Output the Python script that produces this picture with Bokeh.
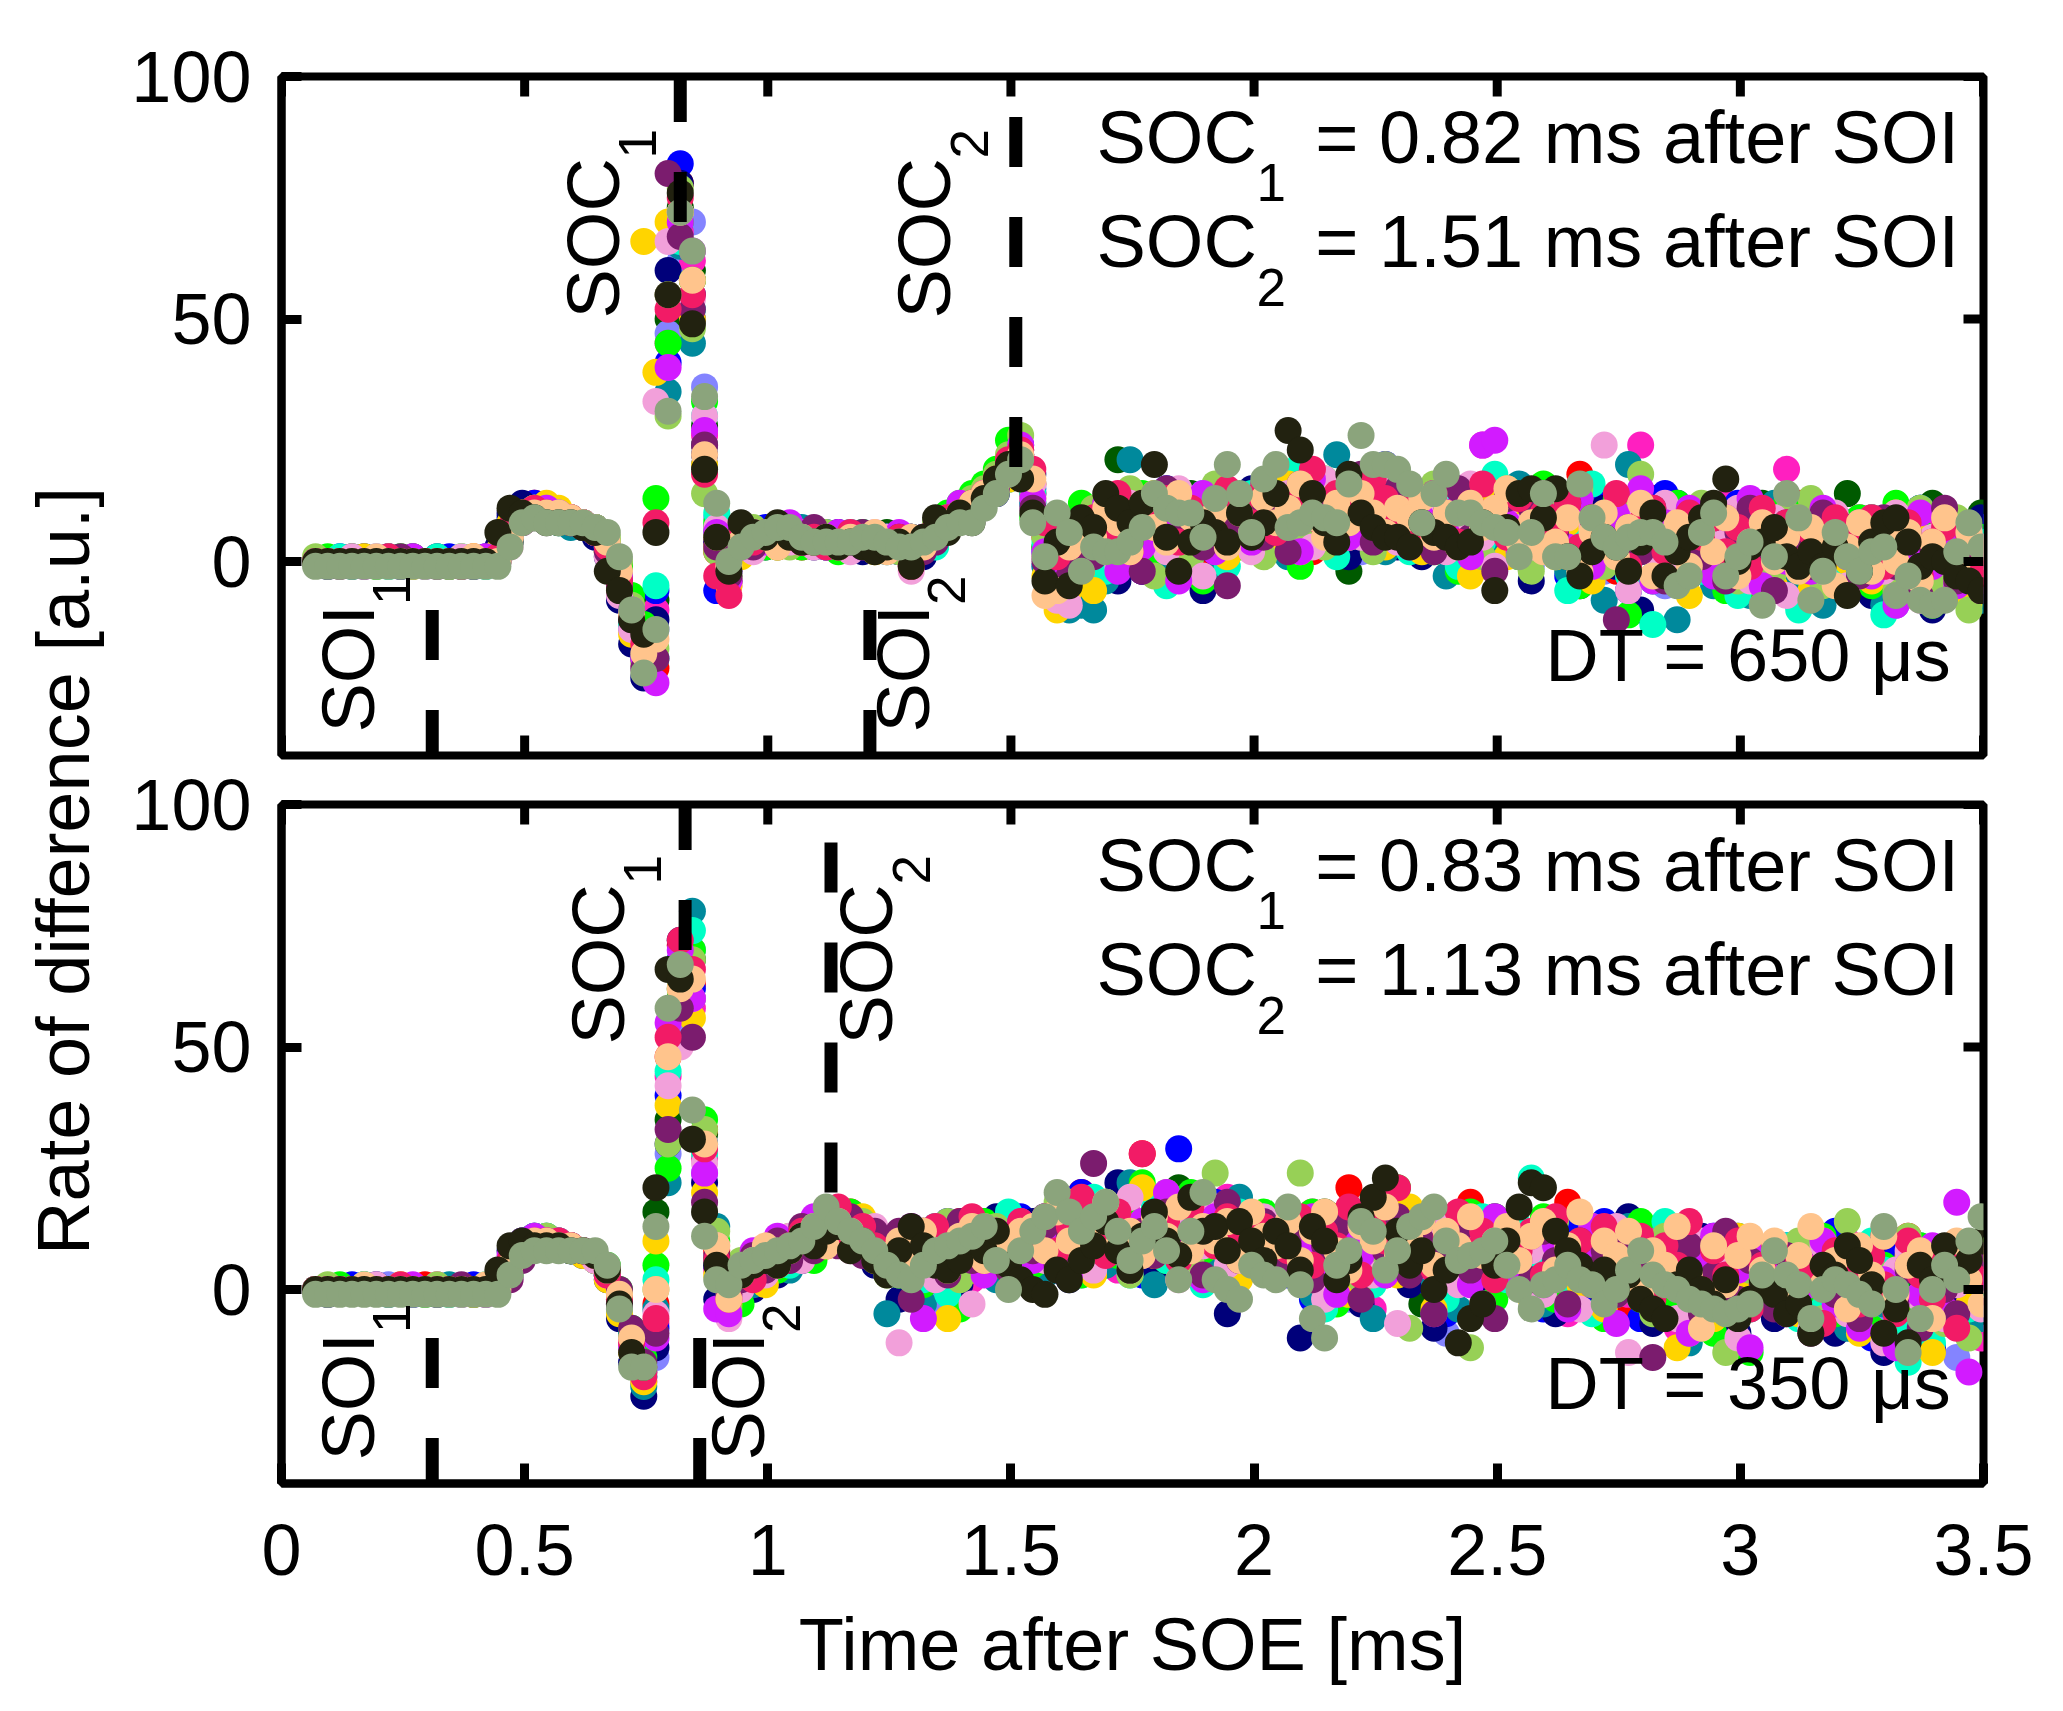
import math
from bokeh.plotting import figure
from bokeh.layouts import row, column
from bokeh.models import Range1d, FixedTicker, LinearAxis, Label, CustomJSTickFormatter
from bokeh.embed import file_html
from bokeh.resources import INLINE
from bokeh.core.properties import value

FONT = "Liberation Sans"

# ---------------- data ----------------
time_ms = [round(0.07 + 0.025 * k, 3) for k in range(138)]
x_ticks = [0, 0.5, 1, 1.5, 2, 2.5, 3, 3.5]
y_ticks = [0, 50, 100]

# ---- upper panel (DT = 650 us) ----
top_darkgreen = [0,0,0,1,0,0,0,0,0,0,0,-1,0,0,0,1,
                 6,10,11,10,9,8,8,7,4,-1,-9,-17,
                 -8,50,73,60,28,7,-3,
                 4,6,5,3,5,6,4,5,4,3,5,4,6,3,4,2,
                 5,8,10,11,13,15,18,20,14,3,-2,4,6,
                 7,3,21,9,5,12,0,8,14,6,2,10,
                 5,11,7,14,2,9,16,6,12,-2,10,15,4,8,
                 10,4,13,7,1,11,6,15,3,9,12,5,
                 2,8,12,-3,6,10,1,7,13,-1,5,9,
                 8,3,-4,10,5,12,-1,6,2,-5,9,4,
                 14,2,-6,7,3,-2,9,12,-4,5,-8,10]
top_periwinkle = [0,0,0,0,0,1,0,0,0,-1,0,0,0,0,0,0,
                  4,9,10,11,10,9,8,6,3,-4,-12,-19,
                  -14,47,62,70,36,9,1,
                  5,3,6,5,4,6,5,3,5,4,6,3,5,4,2,4,
                  6,7,9,11,12,14,17,21,12,-1,-8,-4,3,
                  9,5,-3,11,7,2,13,4,9,-1,8,12,
                  6,13,9,3,15,8,11,5,14,7,2,12,9,16,
                  7,12,4,9,14,2,10,6,13,8,-1,11,
                  9,2,7,13,-2,5,11,3,8,-5,12,6,
                  3,-2,7,11,1,6,-6,9,4,-1,7,-3,
                  5,-5,3,8,-9,2,6,-2,10,-4,1,7]
top_red = [0,0,0,0,0,0,0,0,1,0,0,0,0,0,0,1,
           7,10,12,11,9,9,7,6,2,-5,-13,-20,
           -22,55,78,58,24,2,-4,
           3,5,4,6,5,3,6,4,5,3,4,5,3,4,5,3,
           4,8,10,12,13,16,19,22,16,5,-3,2,8,
           6,12,3,8,-2,10,5,14,7,1,11,4,
           9,3,12,7,15,10,2,13,8,11,6,16,9,12,
           5,11,8,2,13,9,15,4,10,7,12,3,
           11,5,18,1,7,-2,10,4,13,6,-4,8,
           2,8,-1,6,10,3,-5,7,12,1,-3,5,
           6,1,9,-3,4,7,-7,2,8,-1,5,-4]
top_hotpink = [0,0,0,0,0,0,1,0,0,0,0,0,0,1,0,0,
               5,9,11,10,10,8,8,7,3,-3,-11,-18,
               -10,45,68,62,26,4,-5,
               4,3,6,4,6,5,3,5,4,6,3,4,5,3,4,5,
               6,9,11,12,14,17,20,23,14,1,-4,2,5,
               3,9,6,13,1,8,11,4,10,6,15,2,
               11,5,14,8,3,12,9,16,6,13,4,10,17,7,
               13,5,10,3,12,8,24,6,11,2,9,14,
               6,10,2,13,7,-1,9,24,4,11,-2,7,
               9,4,12,-2,6,1,10,19,3,-4,8,2,
               4,9,-1,6,-5,3,8,1,-3,7,-6,4]
top_blue = [0,0,1,0,0,0,1,0,0,0,0,1,0,0,1,2,
            9,11,12,10,9,9,8,7,3,-4,-14,-18,
            -6,41,82,50,20,-6,-2,
            2,5,7,6,5,5,4,6,4,5,3,4,5,2,3,4,
            6,9,10,11,13,16,20,24,15,2,-3,1,4,
            8,3,12,6,-2,10,15,4,9,11,2,7,
            13,6,16,10,3,12,18,9,5,14,7,11,20,8,
            4,12,9,16,6,2,11,7,14,3,10,5,
            7,-3,10,2,12,5,-6,8,3,14,1,6,
            9,-2,5,12,0,7,-5,4,10,2,-7,6,
            3,-4,8,1,-8,5,11,-2,4,-6,2,7]
top_navy = [0,-1,0,0,1,0,0,-1,0,0,1,0,0,-1,0,3,
            10,12,10,9,9,8,7,5,1,-8,-17,-24,
            -12,60,78,55,22,4,-4,
            4,6,3,5,6,4,5,3,6,4,2,5,3,4,5,1,
            4,8,9,12,12,14,18,22,18,6,-6,-2,2,
            2,9,-4,5,13,7,0,11,4,-6,8,3,
            6,15,2,11,8,17,4,13,9,1,16,6,10,3,
            9,1,14,6,11,-2,8,13,4,10,-4,7,
            2,9,-5,6,11,-1,4,-10,7,1,12,-3,
            5,0,8,-6,3,11,-1,6,-9,4,8,-3,
            -1,6,-7,3,9,-4,1,-10,5,0,-5,9]
top_teal = [0,0,0,-1,0,0,0,0,1,0,0,0,-1,0,0,1,
            6,9,11,11,9,7,7,6,2,-3,-12,-20,
            -20,35,65,45,24,6,-1,
            5,3,6,4,5,7,3,4,5,3,5,4,2,3,5,4,
            5,7,9,10,14,15,19,23,12,-1,-4,-10,-9,
            -10,-4,5,21,8,-1,6,12,2,9,-3,5,
            11,4,8,18,1,13,6,10,22,5,9,14,2,7,
            12,3,8,-3,15,6,10,1,7,16,4,9,
            5,-2,11,3,-8,9,20,2,-4,8,-12,6,
            3,-5,9,2,-7,5,12,0,-3,7,-9,4,
            8,-3,2,-9,5,0,11,-6,3,-2,6,-8]
top_green = [0,1,0,0,0,-1,0,1,0,0,0,0,1,0,0,0,
             4,9,10,11,10,9,8,7,4,-1,-7,-13,
             13,45,70,58,33,8,0,
             6,4,3,7,5,3,6,5,2,4,6,3,4,5,2,3,
             7,10,12,14,16,19,25,20,9,3,-1,5,12,
             4,10,-1,7,14,2,9,5,12,-4,6,11,
             3,9,15,6,12,-1,8,17,4,10,14,6,19,9,
             6,14,2,9,-2,11,5,13,8,1,10,16,
             3,10,-5,7,1,13,-11,5,9,-2,12,4,
             7,1,-6,10,3,-8,5,12,-1,6,-4,9,
             2,9,-5,4,12,-2,6,-9,1,7,-3,5]
top_aqua = [0,0,1,0,0,0,-1,0,0,0,1,0,0,0,-1,1,
            7,10,11,10,8,8,7,6,3,-5,-13,-16,
            -5,55,66,52,30,10,2,
            3,5,6,4,7,5,4,3,5,6,4,3,5,4,3,5,
            3,8,10,11,12,16,17,21,14,4,-7,-2,3,
            6,-2,9,3,12,8,-5,10,1,14,5,-1,
            9,14,3,11,7,20,5,12,1,16,8,4,13,10,
            2,11,7,15,-1,9,4,18,6,12,3,8,
            10,-6,4,16,2,8,-3,11,-13,6,1,9,
            -2,8,3,-7,11,5,-1,9,-10,4,7,-4,
            5,-2,9,-11,3,7,-6,2,-1,8,-8,4]
top_yellow = [0,0,0,0,1,0,0,0,-1,0,0,0,0,1,0,2,
              8,10,11,12,11,9,8,6,2,-6,-15,66,
              39,70,72,50,20,3,-5,
              1,4,5,3,6,5,6,4,3,5,4,2,3,5,4,3,
              6,8,11,12,13,15,17,19,13,-3,-10,-6,-2,
              -6,5,11,0,7,14,3,9,-2,6,12,1,
              7,12,4,10,16,2,13,8,11,5,15,9,3,12,
              8,2,12,5,10,-3,7,14,1,9,4,11,
              1,8,13,-4,6,10,-2,5,9,0,7,-7,
              4,10,-3,6,1,8,-5,3,9,-6,2,6,
              0,7,-4,3,10,-7,5,1,-3,6,-9,2]
top_lightgreen = [1,0,0,0,0,0,1,0,0,0,0,-1,0,0,0,1,
                  5,9,10,11,10,9,8,7,5,0,-9,-21,
                  -18,30,77,48,14,2,-3,
                  5,7,4,6,3,5,4,6,3,4,5,3,4,2,4,5,
                  8,9,11,13,15,18,22,26,16,5,3,-1,7,
                  11,2,8,15,5,-3,9,13,1,7,16,4,
                  12,8,1,14,10,6,18,3,11,15,7,2,9,13,
                  5,10,16,3,8,12,1,9,15,6,-2,11,
                  8,2,15,5,-1,11,4,18,-3,7,10,3,
                  12,2,7,-4,9,4,-2,10,1,13,-5,7,
                  4,-1,8,2,-6,6,11,-4,3,9,-10,1]
top_lightpink = [0,0,0,1,0,0,0,0,0,-1,0,0,1,0,0,0,
                 3,8,10,10,9,9,8,6,1,-7,-14,-16,
                 33,66,72,54,30,7,-2,
                 4,2,5,7,4,6,3,5,4,2,4,6,5,3,-2,4,
                 5,7,9,11,14,15,18,21,16,1,-8,-9,2,
                 3,8,-1,12,6,10,2,15,7,-3,9,5,
                 13,2,9,6,14,11,3,17,8,10,5,12,16,4,
                 10,6,13,2,9,16,5,-1,12,7,3,14,
                 4,11,-1,7,24,3,-6,9,2,12,-3,6,
                 8,-1,5,11,-4,3,9,-7,6,1,-2,10,
                 -5,3,7,-2,10,0,-8,5,2,-4,6,-1]
top_magenta = [0,0,0,0,-1,0,0,0,1,0,0,0,0,0,1,1,
               6,9,10,11,10,8,8,6,3,-3,-10,-20,
               -25,40,70,64,27,6,-4,
               3,6,4,5,8,4,5,3,6,4,3,5,4,6,2,5,
               5,9,12,10,14,16,20,24,13,2,-2,0,4,
               5,12,-2,8,3,11,6,-4,9,14,2,7,
               10,4,15,7,12,2,17,9,13,5,11,19,7,14,
               3,9,14,6,11,1,24,25,8,2,12,5,
               9,3,13,-1,6,10,2,15,-4,8,4,11,
               6,-3,9,2,13,-5,5,0,8,-2,11,3,
               1,8,-3,5,-9,2,10,-1,4,-5,7,3]
top_purple = [0,0,-1,0,0,0,0,1,0,0,-1,0,0,0,0,0,
              4,8,10,10,9,8,7,6,2,-5,-12,-22,
              -20,80,67,52,24,3,-3,
              6,3,5,4,6,5,7,4,3,5,6,4,3,5,4,2,
              4,7,9,12,13,15,19,22,11,0,-5,-3,1,
              1,7,12,4,-2,9,15,5,10,3,8,-5,
              8,13,5,10,2,16,9,12,6,11,18,4,9,15,
              12,7,2,10,15,5,9,-2,13,6,11,3,
              6,12,0,9,4,-12,7,2,11,-4,5,8,
              1,9,-4,6,11,3,-6,8,2,-1,10,4,
              7,-3,4,9,-1,6,-7,3,11,-4,2,-6]
top_crimson = [0,0,0,0,0,0,1,0,0,0,0,0,-1,0,0,1,
               7,10,11,10,9,9,8,6,3,-4,-11,-17,
               8,52,75,55,18,-3,-7,
               5,4,6,7,5,4,5,3,4,6,5,4,3,5,-1,3,
               7,9,10,12,14,17,21,23,19,8,1,3,6,
               9,5,14,2,10,7,13,4,11,8,6,15,
               12,8,16,6,13,10,19,7,14,11,9,17,13,10,
               11,6,14,9,4,12,16,8,5,13,7,10,
               7,12,3,9,5,14,-1,8,11,2,6,10,
               5,9,2,7,-1,11,4,8,0,6,3,9,
               6,2,9,-1,5,8,-3,4,7,0,5,-2]
top_peach = [0,0,0,0,0,1,0,0,0,0,0,0,0,1,0,0,
             5,9,10,10,10,9,8,7,4,-2,-11,-19,
             -16,55,72,58,22,5,-1,
             4,6,5,3,6,5,4,5,3,5,4,6,2,4,5,3,
             6,8,10,12,14,16,19,22,17,-7,-6,3,5,
             5,11,8,2,12,7,4,14,9,6,10,3,
             10,6,13,8,11,16,9,5,12,8,14,10,6,11,
             9,13,5,10,3,12,7,11,15,4,8,2,
             4,9,-2,6,10,1,7,12,-3,5,8,-1,
             6,2,9,-3,4,8,0,5,-2,7,3,-5,
             3,8,-2,5,0,6,-4,4,9,-1,6,3]
top_dark = [0,0,0,0,0,0,0,0,0,0,0,0,0,0,0,6,
            11,10,9,8,8,8,7,6,-2,-6,-12,-15,
            6,55,76,49,19,5,-2,
            8,6,5,8,5,4,4,5,3,4,3,2,3,4,-1,5,
            9,6,10,8,13,17,20,17,10,-4,4,-5,9,
            7,14,11,8,12,20,5,-2,4,8,6,4,10,5,8,14,27,23,14,8,4,18,10,7,5,5,
            3,8,6,5,3,4,8,-6,7,14,15,9,15,1,-3,2,5,3,-2,4,10,-3,2,5,9,12,
            17,0,3,4,7,1,-1,2,-1,3,-7,-2,4,8,9,4,-1,1,0,-3,-4,-6]
top_sage = [-1,-1,-1,-1,-1,-1,-1,-1,-1,-1,-1,-1,-1,-1,-1,-1,
            3,8,9,8,8,8,8,7,6,1,-10,-23,
            -14,31,72,64,34,12,0,
            3,5,6,7,7,5,4,4,4,4,5,5,4,3,3,4,
            5,7,8,8,11,14,18,21,8,1,10,6,-2,
            3,2,2,4,7,14,11,10,10,5,13,20,14,6,17,20,7,8,10,9,8,16,26,20,20,19,
            16,8,14,18,10,10,8,7,6,1,6,14,1,1,16,9,5,3,5,6,6,4,-5,-3,6,10,
            -3,1,4,-9,1,14,9,-8,-2,6,1,-2,2,3,-7,-3,-8,-9,-8,2,8,3]

# ---- lower panel (DT = 350 us) ----
bot_darkgreen = [0,0,0,0,1,0,0,0,0,0,0,0,0,-1,0,1,
                 5,9,10,10,9,9,8,7,3,-3,-11,-16,
                 16,35,60,68,32,6,-3,
                 2,5,8,4,9,7,12,10,15,11,9,12,
                 6,9,3,11,7,13,5,10,14,8,12,6,
                 11,6,14,9,4,13,17,8,12,6,15,10,21,7,13,9,16,5,12,8,
                 7,13,4,10,16,6,12,2,9,14,5,11,-3,8,13,6,10,3,15,7,
                 12,5,9,14,2,8,11,-3,6,14,1,7,10,-5,4,9,3,-2,8,5,
                 3,8,-2,6,1,9,-4,5,7,-6,2,10,-1,4,-8,6,3,-3,8]
bot_periwinkle = [0,0,0,0,0,0,1,0,0,0,0,0,-1,0,0,0,
                  4,8,10,10,9,8,8,6,3,-4,-12,-17,
                  -14,28,56,70,24,5,-4,
                  3,1,6,8,5,10,7,13,11,14,9,11,
                  8,3,10,6,-2,9,12,4,11,7,13,5,
                  9,14,7,12,3,16,10,6,13,8,18,11,4,14,9,12,7,15,10,6,
                  12,6,9,3,14,8,-2,10,5,13,7,11,2,9,-9,12,6,4,11,8,
                  5,10,-2,8,3,12,6,-1,9,4,-6,10,2,7,-4,11,1,-11,6,3,
                  7,-2,4,9,-5,2,6,-3,8,1,-7,5,-1,9,-4,3,-14,6,2]
bot_red = [0,0,0,0,0,0,0,0,0,1,0,0,0,0,0,0,
           6,10,11,10,10,9,8,7,4,-2,-10,-17,
           -3,48,71,63,33,8,-5,
           4,7,3,9,6,11,8,14,12,16,10,8,
           9,5,12,3,10,7,14,9,5,13,8,11,
           12,8,15,10,20,7,13,17,11,28,9,14,6,12,18,10,15,8,13,11,
           9,15,5,12,8,14,21,6,11,3,10,16,7,13,2,9,18,5,12,8,
           10,4,13,7,18,2,11,6,9,-3,12,5,8,1,10,-2,7,11,3,6,
           8,2,-3,7,10,-1,5,9,-4,3,6,-2,11,0,4,-6,7,1,5]
bot_hotpink = [0,0,0,0,0,0,0,0,0,0,1,0,0,0,0,1,
               5,9,10,11,10,9,8,6,3,-3,-12,-19,
               -7,44,66,58,27,4,-3,
               3,6,2,8,10,7,12,9,15,13,11,9,
               7,11,4,9,13,6,10,2,12,8,14,7,
               10,14,6,11,16,9,13,4,15,10,7,17,12,8,14,11,19,9,13,6,
               13,7,11,16,4,10,14,8,-4,12,6,15,9,3,13,10,7,14,1,9,
               7,12,4,10,-5,9,3,13,6,-1,8,11,2,-8,7,4,10,-3,6,9,
               4,-3,8,2,6,-7,5,10,-1,3,-9,7,1,4,-5,8,-2,6,-10]
bot_blue = [0,0,0,1,0,0,0,0,-1,0,0,0,0,1,0,1,
            5,9,11,10,9,8,8,7,4,-3,-10,-18,
            -8,40,68,62,30,5,-3,
            1,4,2,8,6,12,9,15,11,14,8,10,
            4,9,2,11,6,14,3,8,12,5,10,15,
            8,15,4,12,20,9,14,6,11,3,16,7,29,13,10,18,8,12,5,14,
            9,3,12,-2,15,7,11,1,18,6,9,14,2,10,-5,8,13,4,11,7,
            2,9,-4,6,12,-1,5,14,0,8,-6,4,10,-3,7,1,11,-8,5,2,
            6,-3,9,1,-7,4,12,-2,6,-10,3,8,-5,2,-12,7,0,-6,4]
bot_navy = [0,-1,0,0,0,1,0,0,0,0,-1,0,0,0,0,2,
            8,10,10,9,9,8,7,6,2,-6,-15,-22,
            -12,30,72,60,22,-2,-4,
            5,0,7,3,10,6,14,11,16,9,13,5,
            8,-2,6,12,4,9,1,13,7,15,3,10,
            14,5,11,2,17,8,13,22,6,10,3,15,9,19,4,12,-5,8,14,6,
            4,11,-10,7,2,15,9,-3,12,5,16,1,8,-8,11,3,7,13,-1,6,
            8,1,13,-5,6,2,10,-2,7,15,3,-7,9,4,-3,11,0,6,-9,5,
            2,-6,7,-1,10,3,-9,5,-3,8,-13,4,1,-7,6,-2,9,-5,3]
bot_teal = [0,0,0,0,0,0,-1,0,0,0,0,1,0,0,0,0,
            3,7,10,10,9,9,8,7,3,-2,-9,-20,
            -4,22,62,78,30,13,-1,
            4,1,6,9,4,10,7,13,15,10,12,8,
            -5,6,11,-3,8,4,12,6,9,2,14,7,
            10,3,14,8,12,17,5,11,22,9,1,13,7,16,10,4,12,19,7,11,
            13,6,10,-1,8,14,3,11,-6,9,16,5,12,2,7,-4,10,6,14,3,
            5,12,-3,7,1,10,4,-5,8,13,2,6,-2,9,-11,4,7,0,11,-4,
            3,8,-4,5,11,-1,6,-8,2,9,-3,4,-10,7,1,-5,8,2,-6]
bot_green = [0,0,1,0,0,0,0,0,0,-1,0,0,0,0,0,1,
             6,9,10,11,10,9,8,7,5,0,-8,-14,
             5,25,60,70,35,10,-2,
             -3,2,7,4,9,11,6,14,10,16,12,7,
             7,3,10,1,12,6,-4,9,14,5,11,8,
             5,13,9,16,3,11,18,7,14,22,10,6,12,20,8,15,4,13,9,16,
             7,12,2,16,9,-3,11,5,14,8,21,4,10,13,1,9,16,6,-2,11,
             10,4,15,-2,8,3,12,-6,6,9,14,1,7,-3,11,5,-9,8,2,-13,
             4,9,-2,6,0,11,-5,3,8,-8,5,1,-4,9,-1,6,-7,2,5]
bot_aqua = [0,0,0,0,1,0,0,0,0,0,0,-1,0,0,1,0,
            6,10,11,11,10,8,8,6,3,-4,-12,-18,
            2,45,66,74,28,6,0,
            2,6,3,9,5,8,13,10,16,12,9,11,
            10,5,8,2,13,-1,7,11,4,9,16,6,
            12,7,15,4,10,19,8,13,3,11,17,6,14,9,1,12,7,16,10,5,
            6,11,3,14,-4,9,12,7,1,16,10,5,13,8,-2,11,4,15,9,2,
            13,23,6,10,2,8,-5,11,4,7,-2,9,14,3,-8,6,1,10,-4,7,
            -2,5,9,-6,3,-4,7,1,-3,10,4,-8,-15,6,-11,3,8,-4,1]
bot_yellow = [0,0,0,0,0,0,0,1,0,0,0,0,0,-1,0,1,
              4,8,10,10,9,8,7,6,2,-5,-13,-19,
              10,38,62,56,20,3,-3,
              3,7,1,5,10,7,12,9,13,11,15,6,
              5,10,3,12,8,-6,10,4,13,7,9,12,
              9,14,6,18,11,3,15,8,12,21,7,13,10,5,17,9,14,2,11,8,
              10,5,13,2,8,15,-1,11,6,12,3,17,9,-4,7,12,2,9,14,5,
              7,-2,11,4,9,1,13,-4,6,10,-1,5,8,-12,4,9,-6,3,11,0,
              5,-1,8,-5,3,10,-2,6,-9,4,1,-4,7,-1,-13,5,2,-3,6]
bot_lightgreen = [0,1,0,0,0,0,0,0,0,0,1,0,0,0,0,0,
                  3,8,10,11,9,9,8,7,4,-2,-10,-17,
                  0,30,64,68,33,12,-4,
                  6,3,8,5,11,8,10,16,12,9,14,10,
                  3,8,12,5,10,14,2,9,6,13,8,11,
                  7,12,18,5,13,9,16,10,3,14,8,20,11,6,15,24,9,13,7,12,
                  11,7,24,4,12,9,15,2,10,6,13,-8,8,11,3,14,-12,7,10,5,
                  4,10,2,14,-3,8,5,12,-1,9,3,-5,11,6,-9,7,2,-13,9,4,
                  7,1,-4,10,3,-6,8,14,-2,5,-9,3,11,-1,6,-7,4,-10,8]
bot_lightpink = [0,0,0,0,0,1,0,0,0,0,0,0,-1,0,0,0,
                 2,7,9,10,9,9,8,6,3,-3,-11,-16,
                 -5,42,50,60,26,9,-6,
                 0,5,3,7,11,6,9,12,14,8,11,13,
                 6,-11,4,9,2,11,7,-3,8,12,5,9,
                 11,6,13,9,16,4,12,8,19,7,14,10,2,13,9,17,5,11,8,15,
                 8,13,4,10,-2,12,7,15,3,9,-7,11,5,14,8,1,10,-3,12,6,
                 3,8,-1,11,5,-4,9,2,13,-13,6,1,8,-6,4,10,-2,7,-10,5,
                 2,7,-3,5,-8,9,1,-5,6,3,-11,4,8,-2,5,-6,1,9,-4]
bot_magenta = [0,0,0,0,0,0,0,0,1,0,0,0,0,0,-1,1,
               7,10,11,10,10,9,8,7,3,-3,-12,-17,
               -10,55,70,60,24,-4,-5,
               3,8,5,11,7,9,15,11,12,14,10,9,
               9,4,13,-6,10,6,11,8,3,12,7,14,
               6,10,15,3,12,8,17,11,5,14,9,20,7,12,2,15,10,6,13,9,
               12,4,9,15,6,-1,11,7,16,3,10,13,5,-5,9,12,1,8,15,4,
               6,11,1,9,-4,7,13,3,-7,10,5,-1,8,2,-9,6,11,-3,4,-12,
               8,3,-5,6,1,10,-3,4,-8,7,2,-12,5,-1,9,-4,18,-17,3]
bot_purple = [0,0,0,0,0,0,0,0,0,0,0,0,1,0,0,0,
              2,6,9,10,9,9,8,7,4,0,-8,-15,
              -9,33,58,52,18,7,-1,
              2,7,4,10,6,13,8,11,9,15,7,12,
              5,12,-2,7,10,3,14,6,9,9,4,11,
              8,13,5,11,17,26,14,9,4,12,7,16,8,11,3,13,18,6,10,14,
              5,10,14,2,9,13,6,-2,11,8,15,3,10,-5,7,12,4,9,-6,11,
              9,2,12,6,-3,10,4,8,-1,11,5,-14,7,1,9,-5,3,12,-2,6,
              1,-4,7,3,-9,5,-1,8,-6,2,11,-3,4,-8,6,0,-5,3,7]
bot_crimson = [0,0,0,0,0,0,0,1,0,0,0,0,0,0,0,1,
               6,9,10,10,10,9,8,7,3,-2,-11,-18,
               -6,52,72,66,29,6,-2,
               4,2,8,6,9,12,10,14,17,11,13,9,
               8,4,11,7,13,5,10,15,6,12,9,14,
               10,15,8,13,19,11,7,16,12,28,10,14,6,17,11,9,15,12,7,13,
               11,8,15,5,12,9,17,3,13,10,21,7,14,4,11,16,8,12,2,10,
               8,12,3,15,6,10,1,13,7,4,11,-2,9,5,14,0,8,3,10,-4,
               5,9,-1,6,2,-7,8,4,-3,7,1,-5,10,3,-2,6,-8,4,2]
bot_peach = [0,0,0,0,1,0,0,0,0,0,0,0,0,0,1,0,
             5,9,10,10,9,9,8,7,4,-1,-10,-16,
             0,48,62,64,30,9,-2,
             3,6,9,5,8,11,13,9,14,12,10,7,
             7,10,5,12,8,4,11,13,6,10,8,12,
             13,8,16,10,6,14,18,9,12,7,15,11,17,8,13,10,14,6,16,11,
             9,14,6,12,16,8,4,13,10,17,7,11,14,5,12,9,15,7,10,13,
             6,11,14,4,9,16,2,10,7,12,-1,8,5,13,3,-8,9,1,7,11,
             4,10,-2,7,13,1,6,-4,9,3,11,-1,5,8,-6,4,10,2,-3]
bot_dark = [0,0,0,0,0,0,0,0,0,0,0,0,0,0,0,4,
            9,10,9,9,9,8,8,7,4,-3,-13,-16,
            21,66,64,31,16,5,3,
            3,5,6,5,8,11,9,12,13,8,10,6,3,8,13,9,5,4,6,10,
            8,12,5,2,0,-1,4,2,6,9,14,8,4,11,16,10,7,19,12,13,
            8,14,10,6,12,9,4,13,10,2,6,15,19,23,12,5,8,0,4,-11,
            -6,-3,5,10,17,22,21,12,8,5,2,4,0,3,-2,-4,-6,1,4,0,
            -3,2,-6,-2,2,-1,-5,-3,-9,5,3,9,6,1,-9,-4,-11,5,2,9,
            4,6,10]
bot_sage = [-1,-1,-1,-1,-1,-1,-1,-1,-1,-1,-1,-1,-1,-1,-1,-1,
            3,7,8,8,8,8,8,8,5,-4,-16,-16,
            13,58,67,37,11,2,1,
            5,6,7,8,9,10,13,17,14,12,10,8,5,3,2,5,8,9,10,11,
            13,6,0,8,12,15,20,16,12,15,18,12,6,10,13,8,2,12,20,2,
            0,-2,5,3,2,17,1,-6,-10,5,8,14,12,4,8,13,15,17,10,6,
            7,8,10,5,0,-4,1,2,5,2,1,-3,0,4,8,3,1,0,-2,-3,
            -4,-5,-4,-3,3,8,3,1,-6,0,2,1,-1,-3,13,0,-13,-6,0,5,
            2,10,15]

# ---------------- style ----------------
COLORS = {
    "darkgreen": "#005A00", "periwinkle": "#8484FF", "red": "#FF0000", "hotpink": "#FF1FC0",
    "blue": "#0000FF", "navy": "#00007A", "teal": "#00899C", "green": "#00FF00",
    "aqua": "#00FFC6", "yellow": "#FFD400", "lightgreen": "#97D056",
    "lightpink": "#F2A0DA", "magenta": "#D21BFF", "purple": "#7B1C6E",
    "crimson": "#F21B66", "peach": "#FFC48C", "dark": "#222210", "sage": "#8BA47C",
}

top_series = [("darkgreen", top_darkgreen), ("periwinkle", top_periwinkle), ("red", top_red),
              ("hotpink", top_hotpink), ("blue", top_blue), ("navy", top_navy), ("teal", top_teal),
              ("green", top_green), ("aqua", top_aqua), ("yellow", top_yellow),
              ("lightgreen", top_lightgreen), ("lightpink", top_lightpink), ("magenta", top_magenta),
              ("purple", top_purple), ("crimson", top_crimson), ("peach", top_peach),
              ("dark", top_dark), ("sage", top_sage)]
bot_series = [("darkgreen", bot_darkgreen), ("periwinkle", bot_periwinkle), ("red", bot_red),
              ("hotpink", bot_hotpink), ("blue", bot_blue), ("navy", bot_navy), ("teal", bot_teal),
              ("green", bot_green), ("aqua", bot_aqua), ("yellow", bot_yellow),
              ("lightgreen", bot_lightgreen), ("lightpink", bot_lightpink), ("magenta", bot_magenta),
              ("purple", bot_purple), ("crimson", bot_crimson), ("peach", bot_peach),
              ("dark", bot_dark), ("sage", bot_sage)]

for name, vals in top_series + bot_series:
    assert len(vals) == len(time_ms), (name, len(vals))

fmt = CustomJSTickFormatter(code="return tick.toString()")
PX_PER_MS = 1702 / 3.5
PX_PER_UNIT = 679 / 140.0
TICK_PX = 20


def style_axis(ax, standoff):
    ax.axis_line_width = 8
    ax.axis_line_color = "black"
    ax.major_tick_in = TICK_PX
    ax.major_tick_out = 0
    ax.major_tick_line_width = 9
    ax.major_tick_line_color = "black"
    ax.minor_tick_line_color = None
    ax.major_label_text_font = FONT
    ax.major_label_text_color = "black"
    ax.major_label_text_font_size = "72px"
    ax.major_label_standoff = standoff
    ax.formatter = fmt


def make_panel(series, height, b_top, b_bottom, with_xlabels,
               vline_x, vline_from, vline_to,
               rot_main, rot_sub, info_main, info_sub):
    p = figure(width=1920, height=height, x_range=Range1d(0, 3.5), y_range=Range1d(-40, 100),
               output_backend="svg", toolbar_location=None,
               x_axis_location=None, y_axis_location=None,
               min_border_left=153, min_border_right=65,
               min_border_top=b_top, min_border_bottom=b_bottom)
    p.background_fill_color = "white"
    p.border_fill_color = "white"
    p.outline_line_color = "black"
    p.outline_line_width = 8
    p.grid.visible = False

    ly = LinearAxis(ticker=FixedTicker(ticks=y_ticks))
    style_axis(ly, 30)
    p.add_layout(ly, "left")
    if with_xlabels:
        bx = LinearAxis(ticker=FixedTicker(ticks=x_ticks))
        style_axis(bx, 41)
        bx.axis_label = "Time after SOE [ms]"
        bx.axis_label_text_font = FONT
        bx.axis_label_text_font_size = "74px"
        bx.axis_label_text_font_style = "normal"
        bx.axis_label_text_color = "black"
        bx.axis_label_standoff = 25
        p.add_layout(bx, "below")

    for name, vals in series:
        p.scatter(x=time_ms, y=vals, size=27, marker="circle",
                  fill_color=COLORS[name], line_color=None)

    # inward tick marks on the unlabelled sides
    ty = TICK_PX / PX_PER_UNIT
    tx = TICK_PX / PX_PER_MS
    n = len(x_ticks)
    p.segment(x0=x_ticks, y0=[100] * n, x1=x_ticks, y1=[100 - ty] * n,
              line_color="black", line_width=9)
    if not with_xlabels:
        p.segment(x0=x_ticks, y0=[-40] * n, x1=x_ticks, y1=[-40 + ty] * n,
                  line_color="black", line_width=9)
    m = len(y_ticks)
    p.segment(x0=[3.5] * m, y0=y_ticks, x1=[3.5 - tx] * m, y1=y_ticks,
              line_color="black", line_width=9)

    p.segment(x0=vline_x, y0=vline_from, x1=vline_x, y1=vline_to,
              line_color="black", line_width=13, line_dash="50 50")

    common = dict(text_font=value(FONT), text_color="black",
                  text_align="left", text_baseline="alphabetic")
    p.text(x=rot_main[0], y=rot_main[1], text=rot_main[2], angle=math.pi / 2,
           text_font_size="74px", **common)
    p.text(x=rot_sub[0], y=rot_sub[1], text=rot_sub[2], angle=math.pi / 2,
           text_font_size="53px", **common)
    p.text(x=info_main[0], y=info_main[1], text=info_main[2],
           text_font_size="74px", **common)
    p.text(x=info_sub[0], y=info_sub[1], text=info_sub[2],
           text_font_size="53px", **common)
    return p


info_x = [1.676, 2.126, 1.676, 2.126, 2.599]
info_y = [87.42, 87.42, 65.98, 65.98, -19.38]
info_sub_x = [2.005, 2.005]
info_sub_y = [78.14, 56.49]

p1 = make_panel(
    top_series, 761, 76, 6, False,
    [0.31, 0.82, 1.21, 1.51], [-10, 70, -10, 19.5], [-40, 100, -40, 100],
    ([0.1378, 0.6416, 1.2791, 1.3223], [-35.26, 50.1, -35.26, 50.1], ["SOI", "SOC", "SOI", "SOC"]),
    ([0.2262, 0.7321, 1.3675, 1.4148], [-8.97, 83.09, -8.97, 83.09], ["1", "1", "2", "2"]),
    (info_x, info_y, ["SOC", "= 0.82 ms after SOI", "SOC", "= 1.51 ms after SOI", "DT = 650 \u03bcs"]),
    (info_sub_x, info_sub_y, ["1", "2"]),
)

p2 = make_panel(
    bot_series, 950, 43, 228, True,
    [0.31, 0.83, 0.86, 1.13], [-10, 70, -10, 20], [-40, 100, -40, 100],
    ([0.1378, 0.6519, 0.9398, 1.2030], [-35.26, 50.5, -35.26, 50.5], ["SOI", "SOC", "SOI", "SOC"]),
    ([0.2262, 0.7424, 1.0282, 1.2955], [-8.97, 83.5, -8.97, 83.5], ["1", "1", "2", "2"]),
    (info_x, info_y, ["SOC", "= 0.83 ms after SOI", "SOC", "= 1.13 ms after SOI", "DT = 350 \u03bcs"]),
    (info_sub_x, info_sub_y, ["1", "2"]),
)

lab = figure(width=128, height=1711, x_range=Range1d(0, 128), y_range=Range1d(0, 1711),
             output_backend="svg", toolbar_location=None,
             x_axis_type=None, y_axis_type=None, min_border=0)
lab.outline_line_color = None
lab.background_fill_color = "white"
lab.border_fill_color = "white"
lab.add_layout(Label(x=63, y=840.5, text="Rate of difference [a.u.]", angle=math.pi / 2,
                     text_align="center", text_baseline="alphabetic",
                     text_font=FONT, text_font_size="74px", text_color="black"))

layout = row(lab, column(p1, p2))
open("out.html", "w").write(file_html(layout, INLINE, title="Rate of difference"))
